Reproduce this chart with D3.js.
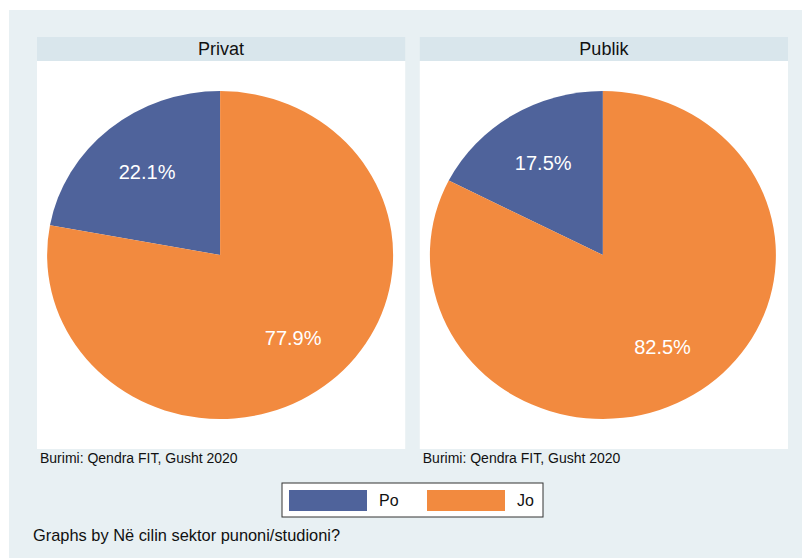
<!DOCTYPE html>
<html>
<head>
<meta charset="utf-8">
<script src="https://cdn.jsdelivr.net/npm/d3@7"></script>
<style>
  body { margin: 0; background: #fff; }
  text { font-family: "Liberation Sans", Arial, sans-serif; }
</style>
</head>
<body>
<div id="chart"></div>
<script>
const panels = ["Privat", "Publik"];
const categories = ["Po", "Jo"];
const shares = [[22.1, 77.9], [17.5, 82.5]];
const source = "Burimi: Qendra FIT, Gusht 2020";
const note = "Graphs by Në cilin sektor punoni/studioni?";

const width = 802, height = 559;
const colors = d3.scaleOrdinal().domain(categories).range(["#4f639b", "#f28a3f"]);

const svg = d3.select("#chart").append("svg")
  .attr("width", width)
  .attr("height", height);

// outer graph region
svg.append("rect")
  .attr("x", 9).attr("y", 10)
  .attr("width", width - 9).attr("height", 548)
  .attr("fill", "#e8f0f3");

const panelX = d3.scaleBand().domain(panels).range([37, 788]).paddingInner(0.038);
const stripTop = 37, stripH = 24, plotBottom = 449;
const ry = 164, rx = 173;

const pie = d3.pie().sort(null).value(d => d).startAngle(0).endAngle(-2 * Math.PI);
const arc = d3.arc().innerRadius(0).outerRadius(ry);
const labelArc = d3.arc().innerRadius(ry * 0.66).outerRadius(ry * 0.66);

panels.forEach((p, i) => {
  const x0 = panelX(p), w = panelX.bandwidth();
  const g = svg.append("g");

  g.append("rect")
    .attr("x", x0).attr("y", stripTop + stripH)
    .attr("width", w).attr("height", plotBottom - stripTop - stripH)
    .attr("fill", "#fff");

  g.append("rect")
    .attr("x", x0).attr("y", stripTop)
    .attr("width", w).attr("height", stripH)
    .attr("fill", "#d9e6ec");

  g.append("text")
    .attr("x", x0 + w / 2).attr("y", stripTop + 18)
    .attr("text-anchor", "middle")
    .attr("font-size", 18)
    .attr("fill", "#111")
    .text(p);

  const cx = x0 + w / 2 - 1, cy = 255;
  const arcs = pie(shares[i]);

  g.append("g")
    .attr("transform", `translate(${cx},${cy}) scale(${rx / ry},1)`)
    .selectAll("path")
    .data(arcs)
    .join("path")
    .attr("d", arc)
    .attr("fill", (d, j) => colors(categories[j]));

  g.append("g")
    .attr("transform", `translate(${cx},${cy})`)
    .selectAll("text")
    .data(arcs)
    .join("text")
    .attr("x", d => labelArc.centroid(d)[0] * rx / ry)
    .attr("y", d => labelArc.centroid(d)[1])
    .attr("dy", "0.35em")
    .attr("text-anchor", "middle")
    .attr("font-size", 20)
    .attr("fill", "#fff")
    .text(d => d3.format(".1f")(d.data) + "%");

  g.append("text")
    .attr("x", x0 + 3).attr("y", 463)
    .attr("font-size", 14)
    .attr("fill", "#111")
    .text(source);
});

// legend
const legend = svg.append("g");
legend.append("rect")
  .attr("x", 282).attr("y", 483)
  .attr("width", 261).attr("height", 34)
  .attr("fill", "#fff")
  .attr("stroke", "#333")
  .attr("stroke-width", 1);

const legX = d3.scaleOrdinal().domain(categories).range([289, 427]);
categories.forEach(c => {
  legend.append("rect")
    .attr("x", legX(c)).attr("y", 490)
    .attr("width", 78).attr("height", 21)
    .attr("fill", colors(c));
  legend.append("text")
    .attr("x", legX(c) + 90).attr("y", 506)
    .attr("font-size", 16)
    .attr("fill", "#111")
    .text(c);
});

svg.append("text")
  .attr("x", 33).attr("y", 541)
  .attr("font-size", 16.4)
  .attr("fill", "#111")
  .text(note);
</script>
</body>
</html>
